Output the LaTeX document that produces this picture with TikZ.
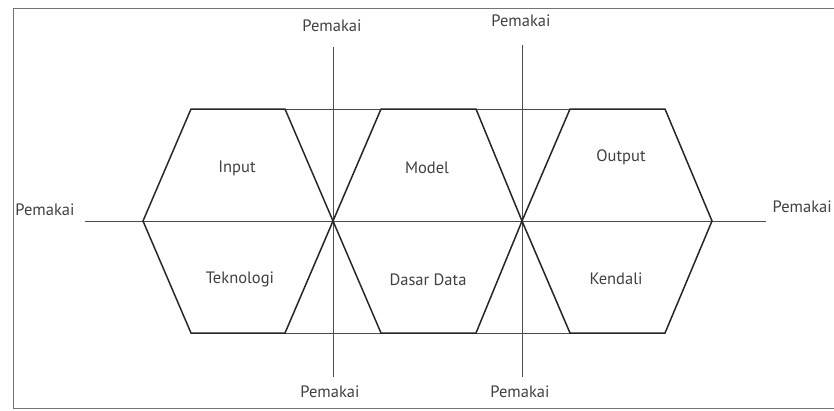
\documentclass[tikz,border=0pt]{standalone}
\usepackage{fontspec}
\setmainfont{PT Sans}
\usepackage{tikz}

\tikzset{
  lbl/.style={text=black!75, font=\fontsize{16.5}{19}\selectfont, inner sep=0pt},
  hexa/.style={draw=black!85, line width=1.5pt, line join=miter},
  axis/.style={draw=black!70, line width=1pt},
}

\begin{document}
\begin{tikzpicture}[x=1pt, y=-1pt]
	\useasboundingbox (0,0) rectangle (834,410);
	\draw[black!55, line width=0.8pt] (13,8) rectangle (880,408);

	% middle vertices
	\coordinate (A) at (143,221);
	\coordinate (B) at (333,221);
	\coordinate (C) at (522,221);
	\coordinate (D) at (712,221);
	% top and bottom corners
	\coordinate (A1) at (191,109);
	\coordinate (B0) at (285,109);
	\coordinate (B1) at (381,109);
	\coordinate (C0) at (476,109);
	\coordinate (C1) at (570,109);
	\coordinate (D0) at (665,109);
	\coordinate (a1) at (191,333);
	\coordinate (b0) at (285,333);
	\coordinate (b1) at (381,333);
	\coordinate (c0) at (476,333);
	\coordinate (c1) at (570,333);
	\coordinate (d0) at (665,333);
	% ends of the user lines
	\coordinate (hL) at (85,221);
	\coordinate (hR) at (766,221);
	\coordinate (v1t) at (333,47);
	\coordinate (v1b) at (333,377);
	\coordinate (v2t) at (522,45);
	\coordinate (v2b) at (522,377);

	\draw[axis] (A1) -- (D0);
	\draw[axis] (a1) -- (d0);
	\draw[axis] (hL) -- (hR);
	\draw[axis] (v1t) -- (v1b);
	\draw[axis] (v2t) -- (v2b);

	\draw[hexa] (A) -- (A1) -- (B0) -- (B) -- (b0) -- (a1) -- cycle;
	\draw[hexa] (B) -- (B1) -- (C0) -- (C) -- (c0) -- (b1) -- cycle;
	\draw[hexa] (C) -- (C1) -- (D0) -- (D) -- (d0) -- (c1) -- cycle;

	\node[lbl] (input) at (237,168) {Input};
	\node[lbl] (model) at (427,168) {Model};
	\node[lbl] (output) at (621,157) {Output};
	\node[lbl] (tekno) at (240,279) {Teknologi};
	\node[lbl] (dasar) at (428,280) {Dasar Data};
	\node[lbl] (kendali) at (616,279) {Kendali};

	\node[lbl] (pU1) at (332,26) {Pemakai};
	\node[lbl] (pU2) at (521,21) {Pemakai};
	\node[lbl] (pL) at (45,210) {Pemakai};
	\node[lbl, anchor=east] (pR) at (832,207) {Pemakai};
	\node[lbl] (pD1) at (330,392) {Pemakai};
	\node[lbl] (pD2) at (520,392) {Pemakai};
\end{tikzpicture}
\end{document}
